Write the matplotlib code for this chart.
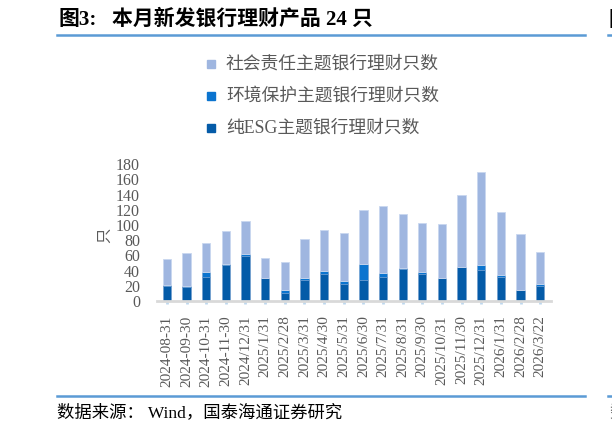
import numpy as np
import matplotlib.pyplot as plt
from matplotlib.lines import Line2D
from matplotlib.patches import Rectangle

plt.rcParams['font.family'] = ['Liberation Serif', 'Noto Sans CJK SC', 'DejaVu Sans']

DATES = [
    "2024-08-31", "2024-09-30", "2024-10-31", "2024-11-30", "2024/12/31",
    "2025/1/31", "2025/2/28", "2025/3/31", "2025/4/30", "2025/5/31",
    "2025/6/30", "2025/7/31", "2025/8/31", "2025/9/30", "2025/10/31",
    "2025/11/30", "2025/12/31", "2026/1/31", "2026/2/28", "2026/3/22",
]
PURE_ESG = [20, 19, 32, 47, 59, 30, 10, 28, 35, 23,
            28, 31, 42, 36, 30, 45, 41, 31, 14, 20]
ENV = [1, 1, 6, 2, 3, 0, 5, 2, 4, 3,
       21, 6, 1, 2, 0, 0, 6, 3, 0, 2]
SOCIAL = [34, 43, 38, 43, 43, 27, 36, 52, 55, 64,
          70, 88, 72, 65, 71, 95, 122, 83, 74, 43]

LABELS = ["社会责任主题银行理财只数", "环境保护主题银行理财只数", "纯ESG主题银行理财只数"]
C_SOCIAL = "#9FB6E0"
C_ENV = "#0B74CF"
C_PURE = "#045BA8"
GRAY = "#595959"
LINE_BLUE = "#5B9BD5"
CJK = ['Noto Sans CJK SC']
MIX = ['Liberation Serif', 'Noto Sans CJK SC']


def main():
    fig = plt.figure(figsize=(6.12, 4.32), dpi=100)
    ax = fig.add_axes([0.256, 0.3032, 0.645, 0.317])

    x = np.arange(len(DATES))
    pure = np.array(PURE_ESG)
    env = np.array(ENV)
    social = np.array(SOCIAL)
    w = 0.42

    ax.bar(x, pure, width=w, color=C_PURE, edgecolor="#6F9BCC", linewidth=0.4)
    ax.bar(x, env, width=w, bottom=pure, color=C_ENV, edgecolor="#6F9BCC", linewidth=0.4)
    ax.bar(x, social, width=w, bottom=pure + env, color=C_SOCIAL,
           edgecolor="#C9D7EF", linewidth=0.6)

    ax.set_xlim(-0.52, len(DATES) - 1 + 0.57)
    ax.set_ylim(0, 180)
    ax.set_yticks(np.arange(0, 181, 20))
    ax.set_yticklabels([str(v) for v in range(0, 181, 20)],
                       fontsize=11.5, color=GRAY, family='Liberation Serif')
    ax.tick_params(axis='y', length=0, pad=12)

    ax.set_xticks(x)
    ax.set_xticklabels(DATES, rotation=90, fontsize=11, color=GRAY,
                       family='Liberation Serif')
    ax.tick_params(axis='x', length=2.5, width=2, color="#BDD7EE",
                   direction='out', pad=8)

    for side in ["top", "right", "left"]:
        ax.spines[side].set_visible(False)
    ax.spines["bottom"].set_color("#D9D9D9")
    ax.spines["bottom"].set_linewidth(2)

    fig.text(105 / 612, 1 - 235 / 432, "只", rotation=90, fontsize=11,
             color=GRAY, family=CJK, ha='center', va='center')

    # legend
    leg_colors = [C_SOCIAL, C_ENV, C_PURE]
    leg_y = [64, 96, 128]
    for lab, col, yy in zip(LABELS, leg_colors, leg_y):
        fig.patches.append(Rectangle((207 / 612, 1 - (yy + 4) / 432), 8 / 612, 8 / 432,
                                     transform=fig.transFigure, color=col))
        fig.text(226 / 612, 1 - yy / 432, lab, fontsize=12.8, color=GRAY,
                 family=MIX, ha='left', va='center')

    # title and source
    fig.text(58 / 612, 1 - 20 / 432, "图3:", fontsize=15, fontweight='bold',
             color='black', family=MIX, ha='left', va='center')
    fig.text(112 / 612, 1 - 20 / 432, "本月新发银行理财产品 24 只",
             fontsize=15, fontweight='bold', color='black', family=MIX,
             ha='left', va='center')
    fig.lines.append(Line2D([57 / 612, 585 / 612], [1 - 35 / 432, 1 - 35 / 432],
                            transform=fig.transFigure, color=LINE_BLUE, linewidth=1.8))
    fig.lines.append(Line2D([57 / 612, 585 / 612], [1 - 396 / 432, 1 - 396 / 432],
                            transform=fig.transFigure, color=LINE_BLUE, linewidth=1.8))
    fig.text(57 / 612, 1 - 413 / 432, "数据来源： Wind，国泰海通证券研究",
             fontsize=12.5, color='black', family=MIX, ha='left', va='center')

    # fragments of the neighbouring figure at the right edge
    fig.lines.append(Line2D([608 / 612, 1.0], [1 - 35 / 432, 1 - 35 / 432],
                            transform=fig.transFigure, color=LINE_BLUE, linewidth=1.8))
    fig.lines.append(Line2D([608 / 612, 1.0], [1 - 396 / 432, 1 - 396 / 432],
                            transform=fig.transFigure, color=LINE_BLUE, linewidth=1.8))
    fig.text(609 / 612, 1 - 20 / 432, "图", fontsize=15, fontweight='bold',
             family=CJK, ha='left', va='center')
    fig.text(609 / 612, 1 - 413 / 432, "数", fontsize=12.5, color=GRAY,
             family=CJK, ha='left', va='center')

    fig.savefig("out.png", dpi=100)
    plt.close(fig)


if __name__ == "__main__":
    main()
